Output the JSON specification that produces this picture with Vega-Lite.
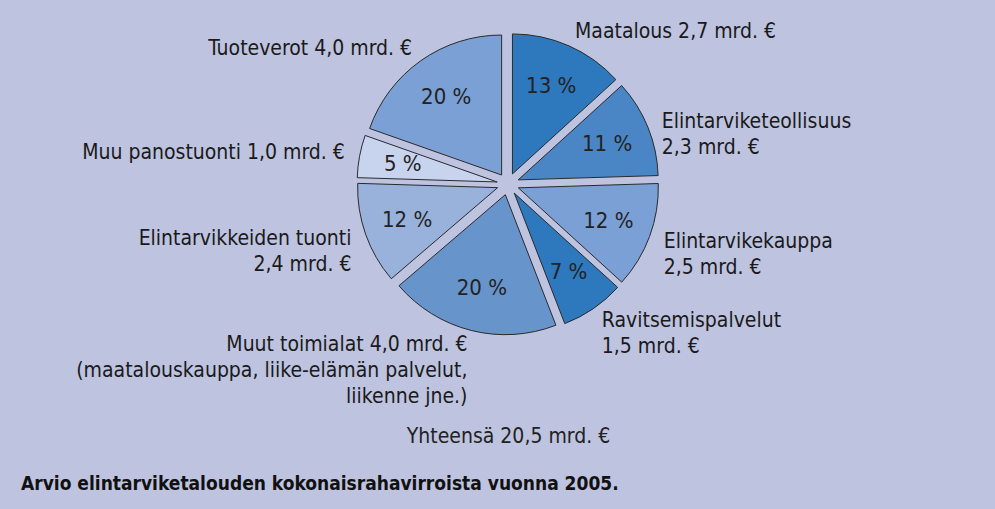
{
  "$schema": "https://vega.github.io/schema/vega-lite/v6.json",
  "width": 974,
  "height": 358,
  "autosize": {"type": "none"},
  "padding": {"left": 21, "top": 5, "right": 0, "bottom": 146},
  "background": "#bec3e0",
  "config": {
    "view": {"stroke": null},
    "font": "Liberation Sans Narrow, DejaVu Sans Condensed, sans-serif"
  },
  "title": {
    "text": "Arvio elintarviketalouden kokonaisrahavirroista vuonna 2005.",
    "orient": "bottom",
    "anchor": "start",
    "fontSize": 19,
    "fontWeight": "bold",
    "color": "#111111",
    "offset": 29,
    "font": "Liberation Sans Narrow, DejaVu Sans Condensed, sans-serif"
  },
  "data": {
    "values": [
      {"i": 1, "name": "Maatalous", "mrd": 2.7, "pct": "13 %", "label": ["Maatalous  2,7 mrd. €"]},
      {"i": 2, "name": "Elintarviketeollisuus", "mrd": 2.3, "pct": "11 %", "label": ["Elintarviketeollisuus", "2,3 mrd. €"]},
      {"i": 3, "name": "Elintarvikekauppa", "mrd": 2.5, "pct": "12 %", "label": ["Elintarvikekauppa", "2,5 mrd. €"]},
      {"i": 4, "name": "Ravitsemispalvelut", "mrd": 1.5, "pct": "7 %", "label": ["Ravitsemispalvelut", "1,5 mrd. €"]},
      {"i": 5, "name": "Muut toimialat", "mrd": 4.0, "pct": "20 %", "label": ["Muut toimialat 4,0 mrd. €", "(maatalouskauppa, liike-elämän palvelut,", "liikenne jne.)"]},
      {"i": 6, "name": "Elintarvikkeiden tuonti", "mrd": 2.4, "pct": "12 %", "label": ["Elintarvikkeiden tuonti", "2,4 mrd. €"]},
      {"i": 7, "name": "Muu panostuonti", "mrd": 1.0, "pct": "5 %", "label": ["Muu panostuonti  1,0 mrd. €"]},
      {"i": 8, "name": "Tuoteverot", "mrd": 4.0, "pct": "20 %", "label": ["Tuoteverot  4,0 mrd. €"]}
    ]
  },
  "encoding": {
    "theta": {"field": "mrd", "type": "quantitative", "stack": true},
    "order": {"field": "i", "type": "quantitative"}
  },
  "layer": [
    {
      "mark": {
        "type": "arc",
        "outerRadius": 140,
        "stroke": "#2a2a2a",
        "strokeWidth": 1,
        "xOffset": {"expr": "11*sin(scale('theta', 0.5*datum.mrd_start + 0.5*datum.mrd_end))"},
        "yOffset": {"expr": "-11*cos(scale('theta', 0.5*datum.mrd_start + 0.5*datum.mrd_end))"}
      },
      "encoding": {
        "x": {
          "datum": "Yhteensä",
          "type": "nominal",
          "axis": {
            "title": "Yhteensä 20,5 mrd. €",
            "labels": false,
            "ticks": false,
            "domain": false,
            "grid": false,
            "titlePadding": 62,
            "titleFontSize": 21,
            "titleFontWeight": "normal",
            "titleColor": "#222222",
            "titleFont": "Liberation Sans Narrow, DejaVu Sans Condensed, sans-serif"
          }
        },
        "color": {
          "field": "name",
          "type": "nominal",
          "legend": null,
          "scale": {
            "domain": ["Maatalous", "Elintarviketeollisuus", "Elintarvikekauppa", "Ravitsemispalvelut", "Muut toimialat", "Elintarvikkeiden tuonti", "Muu panostuonti", "Tuoteverot"],
            "range": ["#2e78be", "#4a86c6", "#7aa0d6", "#2e78be", "#6894cc", "#98b2dc", "#c8d4ee", "#7aa0d6"]
          }
        }
      }
    },
    {
      "mark": {"type": "text", "radius": 107, "fontSize": 22, "color": "#222222", "align": "center", "baseline": "middle"},
      "encoding": {"text": {"field": "pct", "type": "nominal"}}
    },
    {
      "mark": {
        "type": "text",
        "radius": 166,
        "fontSize": 21,
        "lineHeight": 26,
        "color": "#1a1a1a",
        "baseline": "middle",
        "align": {"expr": "sin(scale('theta', 0.5*datum.mrd_start + 0.5*datum.mrd_end)) > 0.2 ? 'left' : (sin(scale('theta', 0.5*datum.mrd_start + 0.5*datum.mrd_end)) < -0.2 ? 'right' : 'center')"}
      },
      "encoding": {"text": {"field": "label", "type": "nominal"}}
    }
  ]
}
